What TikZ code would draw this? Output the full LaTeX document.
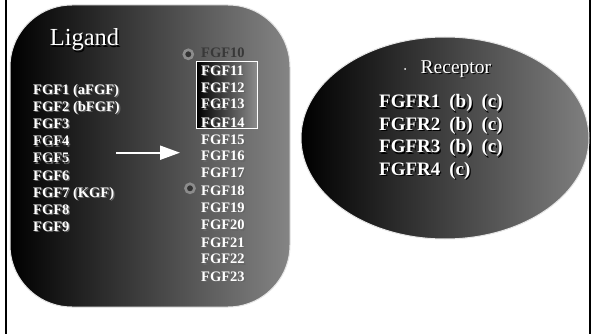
\documentclass[tikz,border=0pt]{standalone}
\usepackage{fontspec}
\setmainfont{Liberation Serif}
\usetikzlibrary{arrows.meta}
\newcommand\shadowtxt[2]{\makebox[0pt][l]{\raisebox{-1.3pt}{\hspace{1.3pt}\textcolor{#1}{#2}}}#2}
\tikzset{
  fgf/.style={anchor=base west, inner sep=0pt, text=white, font=\bfseries\fontsize{14.5}{16}\selectfont},
  fgr/.style={anchor=base west, inner sep=0pt, text=white, font=\bfseries\fontsize{19}{22}\selectfont},
  bul/.style={circle, inner sep=0pt, minimum size=9pt, fill=black!80, draw=black!45, line width=2.6pt},
}
\begin{document}
\begin{tikzpicture}[x=1pt,y=-1pt]
\useasboundingbox (0,0) rectangle (592,334);
\fill[white] (0,0) rectangle (592,334);
\draw[line width=2pt] (6,0) -- (6,334);
\draw[line width=2pt] (590,0) -- (590,334);
% ligand panel
\shade[left color=black, right color=black!48, draw=black!10, line width=1pt, rounded corners=62pt] (10,5) rectangle (290,307);
\node[anchor=base, inner sep=0pt, text=white, font=\fontsize{24.5}{26}\selectfont] (ligand) at (84.5,46) {\shadowtxt{black}{Ligand}};
% receptor ellipse
\shade[left color=black, right color=black!50, draw=black!10, line width=1pt] (445,138) ellipse [x radius=144, y radius=101];
\node[circle, fill=white, inner sep=0pt, minimum size=2pt] (rdot) at (405,69) {};
\node[anchor=base west, inner sep=0pt, text=white, font=\fontsize{19.5}{22}\selectfont] (receptor) at (420.5,73.5) {\shadowtxt{black}{Receptor}};
\node[fgr] (r1) at (379,108) {\shadowtxt{black}{FGFR1\hspace{9pt}(b)\hspace{9pt}(c)}};
\node[fgr] (r2) at (379,130.5) {\shadowtxt{black}{FGFR2\hspace{9pt}(b)\hspace{9pt}(c)}};
\node[fgr] (r3) at (379,153) {\shadowtxt{black}{FGFR3\hspace{9pt}(b)\hspace{9pt}(c)}};
\node[fgr] (r4) at (379,175.5) {\shadowtxt{black}{FGFR4\hspace{9pt}(c)}};
% box around FGF11-14
\shade[left color=black, right color=black!45, draw=white, line width=1pt] (196,62) rectangle (257,129);
% left list
\foreach \t [count=\i from 0] in {FGF1 (aFGF),FGF2 (bFGF),FGF3,FGF4,FGF5,FGF6,FGF7 (KGF),FGF8,FGF9}{
  \node[fgf] (l\i) at (33,94.2+17.17*\i) {\shadowtxt{black!60}{\t}};
}
% right list
\node[fgf, text=black!78] (f10) at (201,57.2) {FGF10};
\node[fgf] (f11) at (201,75.5) {\shadowtxt{black!60}{FGF11}};
\node[fgf] (f12) at (201,92.2) {\shadowtxt{black!60}{FGF12}};
\node[fgf] (f13) at (201,108.9) {\shadowtxt{black!60}{FGF13}};
\node[fgf] (f14) at (201,127.1) {\shadowtxt{black!60}{FGF14}};
\node[fgf] (f15) at (201,144.1) {\shadowtxt{black!60}{FGF15}};
\node[fgf] (f16) at (201,160.8) {\shadowtxt{black!60}{FGF16}};
\node[fgf] (f17) at (201,177.5) {\shadowtxt{black!60}{FGF17}};
\node[fgf] (f18) at (201,195.5) {\shadowtxt{black!60}{FGF18}};
\node[fgf] (f19) at (201,212.5) {\shadowtxt{black!60}{FGF19}};
\node[fgf] (f20) at (201,229.8) {\shadowtxt{black!60}{FGF20}};
\node[fgf] (f21) at (201,247.5) {\shadowtxt{black!60}{FGF21}};
\node[fgf] (f22) at (201,263.8) {\shadowtxt{black!60}{FGF22}};
\node[fgf] (f23) at (201,281.5) {\shadowtxt{black!60}{FGF23}};
\node[bul] (b1) at (188.3,54.3) {};
\node[bul] (b2) at (190,188.3) {};
% arrow
\coordinate (as) at (116,152.7);
\coordinate (ae) at (180,152.7);
\draw[white, line width=2pt, -{Triangle[length=20pt,width=14pt]}] (as) -- (ae);
\end{tikzpicture}
\end{document}
